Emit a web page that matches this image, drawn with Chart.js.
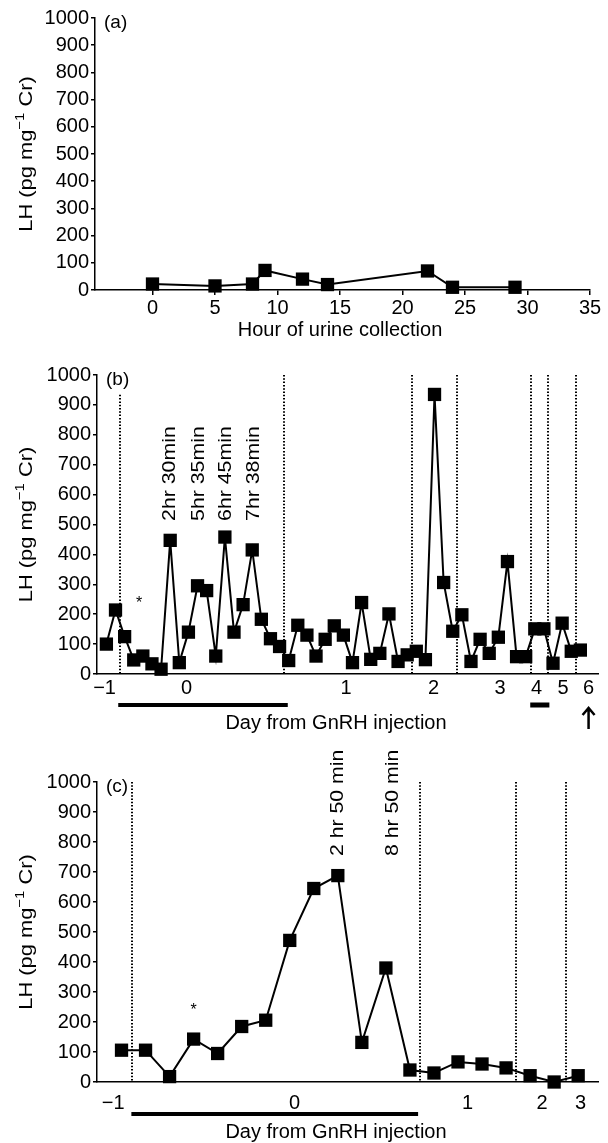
<!DOCTYPE html>
<html>
<head>
<meta charset="utf-8">
<script src="https://cdn.jsdelivr.net/npm/chart.js@4.4.1/dist/chart.umd.min.js"></script>
<style>
  body { margin: 0; background: #fff; width: 608px; height: 1143px; position: relative; overflow: hidden; }
  canvas { position: absolute; left: 0; }
</style>
</head>
<body>
<canvas id="chartA" width="608" height="345" style="top:0px"></canvas>
<canvas id="chartB" width="608" height="400" style="top:345px"></canvas>
<canvas id="chartC" width="608" height="398" style="top:745px"></canvas>
<script>
// ---- data ----
// (a) hours of urine collection
const hoursA = [0, 5, 8, 9, 12, 14, 22, 24, 29];
const lhA = [22, 15, 22, 72, 40, 20, 70, 10, 10];
const hourTicksA = [0, 5, 10, 15, 20, 25, 30, 35];

// (b) one value per sample, in collection order
const lhB = [100, 214, 125, 47, 60, 34, 16, 447, 38, 140,
             295, 279, 60, 458, 140, 232, 415, 183, 118, 92,
             45, 163, 130, 60, 116, 161, 130, 38, 239, 49,
             69, 201, 42, 64, 76, 48, 935, 306, 143, 198,
             42, 116, 69, 123, 376, 58, 58, 151, 151, 36,
             170, 76, 80];
const dayTickPosB = [-0.2, 8.8, 26.3, 35.9, 43.2, 47.2, 50.1, 52.9];
const dayTickLabelsB = ['\u22121', '0', '1', '2', '3', '4', '5', '6'];
const dayLinesB = [1.5, 19.5, 33.5, 38.5, 46.6, 48.4, 51.5];
const barsB = [[1.3, 19.9], [46.5, 48.6]];
const timeLabelsB = ['2hr 30min', '5hr 35min', '6hr 45min', '7hr 38min'];
const timePosB = [7, 10.1, 13.1, 16.2];

// (c)
const lhC = [106, 106, 18, 143, 95, 185, 206, 472, 645, 688,
             132, 380, 40, 30, 67, 60, 47, 21, 0, 21];
const dayTickPosC = [-0.35, 7.2, 14.4, 17.5, 19.1];
const dayTickLabelsC = ['\u22121', '0', '1', '2', '3'];
const dayLinesC = [0.45, 12.4, 16.4, 18.5];
const barsC = [[0.41, 12.34]];
const timeLabelsC = ['2 hr 50 min', '8 hr 50 min'];
const timePosC = [9, 11.3];

const FONT = '"Liberation Sans", Arial, Helvetica, sans-serif';
const TICK = { family: FONT, size: 20 };

function drawYTitle(ctx, cx, cy) {
  const parts = [['LH (pg mg', 19, 0], ['\u22121', 13, -7], [' Cr)', 19, 0]];
  ctx.save();
  ctx.translate(cx, cy);
  ctx.rotate(-Math.PI / 2);
  ctx.scale(1.15, 1);
  let total = 0;
  parts.forEach(p => { ctx.font = p[1] + 'px ' + FONT; total += ctx.measureText(p[0]).width; });
  let px = -total / 2;
  ctx.textAlign = 'left';
  ctx.textBaseline = 'middle';
  parts.forEach(p => {
    ctx.font = p[1] + 'px ' + FONT;
    ctx.fillText(p[0], px, p[2]);
    px += ctx.measureText(p[0]).width;
  });
  ctx.restore();
}

const extras = {
  id: 'extras',
  beforeDatasetsDraw(chart, args, o) {
    const { ctx, chartArea: a, scales: { x } } = chart;
    ctx.save();
    ctx.strokeStyle = '#000';
    ctx.lineWidth = 2;
    ctx.setLineDash([1.5, 1.8]);
    (o.vlines || []).forEach(v => {
      const px = Math.round(x.getPixelForValue(v));
      ctx.beginPath();
      ctx.moveTo(px, a.top);
      ctx.lineTo(px, a.bottom);
      ctx.stroke();
    });
    ctx.restore();

    // letter sits over the dotted lines, on a white patch
    ctx.save();
    ctx.font = '19px ' + FONT;
    const w = ctx.measureText(o.letter).width;
    ctx.fillStyle = '#fff';
    ctx.fillRect(a.left + 8, a.top - 6, w + 2, 24);
    ctx.fillStyle = '#000';
    ctx.textAlign = 'left';
    ctx.textBaseline = 'middle';
    ctx.fillText(o.letter, a.left + 9, a.top + 5);
    ctx.restore();
  },
  afterDraw(chart, args, o) {
    const { ctx, chartArea: a, scales: { x, y } } = chart;
    ctx.save();
    ctx.fillStyle = '#000';
    ctx.strokeStyle = '#000';
    ctx.font = '20px ' + FONT;
    ctx.textAlign = 'center';
    ctx.textBaseline = 'middle';
    ctx.fillText(o.xTitle, o.xTitleX, o.xTitleY);

    drawYTitle(ctx, 27, (a.top + a.bottom) / 2);

    if (o.star) {
      ctx.font = '16px ' + FONT;
      ctx.fillText('*', x.getPixelForValue(o.star[0]), y.getPixelForValue(o.star[1]));
    }

    (o.timeLabels || []).forEach((t, i) => {
      ctx.save();
      ctx.translate(x.getPixelForValue(o.timePos[i]), y.getPixelForValue(o.timeBase));
      ctx.rotate(-Math.PI / 2);
      ctx.scale(1.12, 1);
      ctx.font = '19px ' + FONT;
      ctx.textAlign = 'left';
      ctx.textBaseline = 'middle';
      ctx.fillText(t, 0, 0);
      ctx.restore();
    });

    (o.bars || []).forEach((b, i) => {
      const x0 = x.getPixelForValue(b[0]);
      const x1 = x.getPixelForValue(b[1]);
      const h = i === 0 ? 4 : 5;
      ctx.fillRect(x0, o.barY - h / 2, x1 - x0, h);
    });

    if (o.arrowAt !== undefined) {
      const ax = x.getPixelForValue(o.arrowAt);
      ctx.lineWidth = 2.5;
      ctx.beginPath();
      ctx.moveTo(ax, o.arrowTop + 1);
      ctx.lineTo(ax, o.arrowTop + 21);
      ctx.moveTo(ax - 6, o.arrowTop + 7);
      ctx.lineTo(ax, o.arrowTop);
      ctx.lineTo(ax + 6, o.arrowTop + 7);
      ctx.stroke();
    }
    ctx.restore();
  }
};

function yScale(left) {
  return {
    min: 0, max: 1000,
    ticks: { stepSize: 100, callback: v => String(v), color: '#000', font: TICK, padding: 2 },
    grid: { drawOnChartArea: false, drawTicks: true, tickLength: 4, color: '#000', lineWidth: 1.5 },
    border: { color: '#000', width: 1.5 },
    afterFit(s) { s.width = left; }
  };
}

function lineSet(points) {
  return {
    data: points,
    borderColor: '#000',
    borderWidth: 2,
    backgroundColor: '#000',
    pointStyle: 'rect',
    pointRadius: 9.4,
    pointBackgroundColor: '#000',
    pointBorderColor: '#000',
    pointBorderWidth: 0,
    tension: 0,
    clip: false
  };
}

function dayAxis(min, max, pos, labels, pad, height) {
  return {
    type: 'linear', min, max,
    afterBuildTicks(s) { s.ticks = pos.map(v => ({ value: v })); },
    ticks: {
      callback: (v, i) => labels[i],
      color: '#000', font: TICK, padding: pad,
      maxRotation: 0, autoSkip: false
    },
    grid: { drawOnChartArea: false, drawTicks: false },
    border: { color: '#000', width: 1.5 },
    afterFit(s) { s.height = height; }
  };
}

const base = {
  responsive: false,
  animation: false,
  plugins: { legend: { display: false }, tooltip: { enabled: false } }
};

// (a)
new Chart(document.getElementById('chartA'), {
  type: 'line',
  data: { datasets: [lineSet(hoursA.map((h, i) => ({ x: h, y: lhA[i] })))] },
  plugins: [extras],
  options: {
    ...base,
    layout: { padding: { top: 18, right: 18, left: 0, bottom: 0 } },
    scales: {
      x: {
        type: 'linear', min: -4.6, max: 35,
        afterBuildTicks(s) { s.ticks = hourTicksA.map(v => ({ value: v })); },
        ticks: { color: '#000', font: TICK, padding: 1, maxRotation: 0, autoSkip: false },
        grid: { drawOnChartArea: false, drawTicks: true, tickLength: 5, color: '#000', lineWidth: 1.5 },
        border: { color: '#000', width: 1.5 },
        afterFit(s) { s.height = 345 - 290; }
      },
      y: yScale(95)
    },
    plugins: {
      ...base.plugins,
      extras: { letter: '(a)', xTitle: 'Hour of urine collection', xTitleX: 340, xTitleY: 330 }
    }
  }
});

// (b)
new Chart(document.getElementById('chartB'), {
  type: 'line',
  data: { datasets: [lineSet(lhB.map((v, i) => ({ x: i, y: v })))] },
  plugins: [extras],
  options: {
    ...base,
    layout: { padding: { top: 30, right: 6, left: 0, bottom: 0 } },
    scales: {
      x: dayAxis(-1.03, 54, dayTickPosB, dayTickLabelsB, 2, 400 - 329),
      y: yScale(97)
    },
    plugins: {
      ...base.plugins,
      extras: {
        letter: '(b)', xTitle: 'Day from GnRH injection', xTitleX: 336, xTitleY: 378,
        vlines: dayLinesB, bars: barsB, barY: 360, arrowAt: 52.9, arrowTop: 363,
        star: [3.6, 237], timeLabels: timeLabelsB, timePos: timePosB, timeBase: 512
      }
    }
  }
});

// (c)
new Chart(document.getElementById('chartC'), {
  type: 'line',
  data: { datasets: [lineSet(lhC.map((v, i) => ({ x: i, y: v })))] },
  plugins: [extras],
  options: {
    ...base,
    layout: { padding: { top: 37, right: 2, left: 0, bottom: 0 } },
    scales: {
      x: dayAxis(-1.02, 19.85, dayTickPosC, dayTickLabelsC, 9, 398 - 337),
      y: yScale(97)
    },
    plugins: {
      ...base.plugins,
      extras: {
        letter: '(c)', xTitle: 'Day from GnRH injection', xTitleX: 336, xTitleY: 387,
        vlines: dayLinesC, bars: barsC, barY: 369,
        star: [3, 237], timeLabels: timeLabelsC, timePos: timePosC, timeBase: 753
      }
    }
  }
});
</script>
</body>
</html>
